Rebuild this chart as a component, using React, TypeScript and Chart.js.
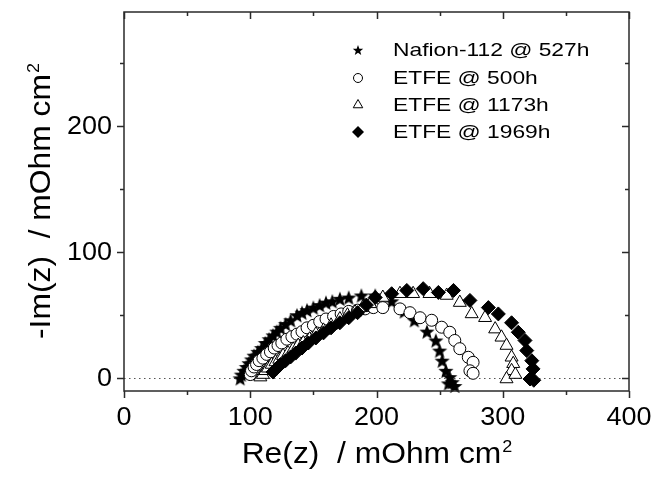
import React, { useEffect, useRef } from 'react';
import { Chart, registerables } from 'chart.js';

Chart.register(...registerables);

// ---------- data (Re(z), -Im(z)) in mOhm cm^2 ----------
const nafionRe = [92, 93, 95, 97, 99, 101, 103, 106, 109, 112, 115, 118, 121, 124, 128, 132, 137, 141, 145, 150, 155, 160, 165, 171, 178, 188, 199, 212, 222, 230, 240, 247, 250, 252, 255, 258, 260, 257, 262];
const nafionIm = [0, 3, 6, 9, 12, 15, 18, 21, 24, 28, 31, 34, 37, 40, 43, 46, 50, 52, 54, 56, 58, 60, 61, 63, 64, 65.6, 65.6, 61, 53, 46, 37, 30, 22, 14, 6, 1, -3, -4, -6];

const etfe500Re = [100, 101, 103, 105, 107, 110, 113, 116, 119, 122, 125, 129, 133, 137, 141, 145, 150, 155, 160, 166, 172, 178, 185, 191, 197.5, 205, 218.6, 226.5, 234.5, 243.7, 251.6, 258, 262, 266, 272.7, 276.5, 274, 276.5];
const etfe500Im = [3, 6, 9, 11, 14, 16, 19, 21, 24, 26, 28, 31, 33, 35, 37, 40, 42, 45, 47, 49, 51, 53, 54, 55, 56, 56, 55, 52, 48, 46, 40.5, 36.5, 30, 23.5, 16.7, 12.7, 6, 4];

const etfe1173Re = [108, 110, 112, 114, 117, 120, 123, 126, 130, 134, 138, 142, 147, 152, 158, 164, 171, 177, 183, 189, 195, 205, 218.6, 229, 242, 255.6, 266, 275.4, 286, 294, 299, 303, 307, 308.3, 307, 303, 310];
const etfe1173Im = [1, 3, 6, 8, 11, 13, 15, 18, 20, 23, 26, 28, 31, 35, 38, 42, 47, 50, 52.4, 56, 59, 64, 67, 67, 67, 65.6, 60, 51, 48, 39, 32.5, 26, 16.7, 11.6, 6, -0.5, 3];

const etfe1969Re = [118, 121, 124, 128, 132, 136, 141, 146, 152, 158, 164, 171, 178, 185, 192, 199, 212, 224, 237, 249, 261, 274, 288.6, 296.5, 307, 312.3, 317.6, 319, 323, 324, 321.6, 324.6];
const etfe1969Im = [5, 8, 11, 14, 17, 20, 24, 28, 32, 36, 40, 44, 48, 52, 58, 64, 67, 69.6, 71, 68, 69.6, 61.7, 56, 51, 44, 36.5, 30, 22, 14, 7.5, -0.5, -1.5];

const seriesLabels = ['Nafion-112 @ 527h', 'ETFE @ 500h', 'ETFE @ 1173h', 'ETFE @ 1969h'];
const xTickValues = [0, 100, 200, 300, 400];
const yTickValues = [0, 100, 200];
const xMinorValues = [50, 150, 250, 350];
const yMinorValues = [50, 150, 250];
const xTitle = 'Re(z)  / mOhm cm';
const yTitle = '-Im(z)  / mOhm cm';
const titleSup = '2';

const FONT = '"Liberation Sans", Arial, Helvetica, sans-serif';
const AXIS_COLOR = '#2a2a2a';

function toPoints(xs: number[], ys: number[]) {
  return xs.map((v, i) => ({ x: v, y: ys[i] }));
}

function starPath(ctx: CanvasRenderingContext2D, cx: number, cy: number, R: number, r: number) {
  ctx.beginPath();
  for (let i = 0; i < 10; i++) {
    const ang = -Math.PI / 2 + (i * Math.PI) / 5;
    const rad = i % 2 === 0 ? R : r;
    const px = cx + Math.cos(ang) * rad;
    const py = cy + Math.sin(ang) * rad;
    if (i === 0) ctx.moveTo(px, py);
    else ctx.lineTo(px, py);
  }
  ctx.closePath();
}

function makeStarImage(size: number, R: number, r: number) {
  const c = document.createElement('canvas');
  c.width = size;
  c.height = size;
  const g = c.getContext('2d')!;
  g.fillStyle = '#000';
  starPath(g, size / 2, size / 2 + R * 0.1, R, r);
  g.fill();
  return c;
}

// draw text with a horizontal stretch factor (the reference font is slightly wide)
function stretchText(ctx: CanvasRenderingContext2D, text: string, x: number, y: number, sx: number, align: 'left' | 'right' | 'center') {
  ctx.save();
  ctx.translate(x, y);
  ctx.scale(sx, 1);
  ctx.textAlign = align;
  ctx.fillText(text, 0, 0);
  ctx.restore();
}

function drawTitle(ctx: CanvasRenderingContext2D, text: string, sup: string, cx: number, baseline: number) {
  const SX = 1.06;
  ctx.font = `30px ${FONT}`;
  const w1 = ctx.measureText(text).width * SX;
  ctx.font = `17px ${FONT}`;
  const w2 = ctx.measureText(sup).width * SX;
  const start = cx - (w1 + w2) / 2;
  ctx.textBaseline = 'alphabetic';
  ctx.fillStyle = '#000';
  ctx.font = `30px ${FONT}`;
  stretchText(ctx, text, start, baseline, SX, 'left');
  ctx.font = `17px ${FONT}`;
  stretchText(ctx, sup, start + w1 + 1, baseline - 11, SX, 'left');
}

const framePlugin = {
  id: 'framePlugin',
  beforeDatasetsDraw(chart: any) {
    const { ctx, chartArea: a, scales } = chart;
    const y0 = Math.round(scales.y.getPixelForValue(0)) + 0.5;
    ctx.save();
    ctx.strokeStyle = '#555';
    ctx.lineWidth = 1;
    ctx.setLineDash([1.5, 3.5]);
    ctx.beginPath();
    ctx.moveTo(a.left, y0);
    ctx.lineTo(a.right, y0);
    ctx.stroke();
    ctx.restore();
  },
  afterDraw(chart: any) {
    const { ctx, chartArea: a, scales } = chart;
    const x = scales.x;
    const y = scales.y;
    ctx.save();
    ctx.strokeStyle = AXIS_COLOR;
    ctx.lineWidth = 1.5;
    ctx.setLineDash([]);
    ctx.strokeRect(a.left, a.top, a.right - a.left, a.bottom - a.top);

    const MAJ = 7;
    const MIN = 4;
    ctx.beginPath();
    xTickValues.forEach((v) => {
      const px = Math.round(x.getPixelForValue(v)) + 0.5;
      ctx.moveTo(px, a.bottom);
      ctx.lineTo(px, a.bottom + MAJ);
      ctx.moveTo(px, a.top);
      ctx.lineTo(px, a.top + MAJ);
    });
    xMinorValues.forEach((v) => {
      const px = Math.round(x.getPixelForValue(v)) + 0.5;
      ctx.moveTo(px, a.bottom);
      ctx.lineTo(px, a.bottom + MIN);
      ctx.moveTo(px, a.top);
      ctx.lineTo(px, a.top + MIN);
    });
    yTickValues.forEach((v) => {
      const py = Math.round(y.getPixelForValue(v)) + 0.5;
      ctx.moveTo(a.left, py);
      ctx.lineTo(a.left - MAJ, py);
      ctx.moveTo(a.right, py);
      ctx.lineTo(a.right - MAJ, py);
    });
    yMinorValues.forEach((v) => {
      const py = Math.round(y.getPixelForValue(v)) + 0.5;
      ctx.moveTo(a.left, py);
      ctx.lineTo(a.left - MIN, py);
      ctx.moveTo(a.right, py);
      ctx.lineTo(a.right - MIN, py);
    });
    ctx.stroke();

    // tick labels
    const TSX = 1.08;
    ctx.fillStyle = '#000';
    ctx.font = `25px ${FONT}`;
    ctx.textBaseline = 'alphabetic';
    xTickValues.forEach((v) => {
      stretchText(ctx, String(v), x.getPixelForValue(v), 425, TSX, 'center');
    });
    ctx.textBaseline = 'middle';
    yTickValues.forEach((v) => {
      stretchText(ctx, String(v), 112, y.getPixelForValue(v) + 1, TSX, 'right');
    });

    // axis titles
    drawTitle(ctx, xTitle, titleSup, (a.left + a.right) / 2, 463);
    ctx.save();
    ctx.translate(50, (a.top + a.bottom) / 2);
    ctx.rotate(-Math.PI / 2);
    drawTitle(ctx, yTitle, titleSup, 0, 0);
    ctx.restore();

    // legend
    const lx = 358;
    const rows = [50, 78, 105, 132];
    ctx.font = `19px ${FONT}`;
    ctx.textBaseline = 'middle';
    rows.forEach((ry, i) => {
      ctx.lineWidth = 1;
      ctx.strokeStyle = '#000';
      ctx.fillStyle = '#000';
      if (i === 0) {
        starPath(ctx, lx, ry + 0.5, 5.5, 2.3);
        ctx.fill();
      } else if (i === 1) {
        ctx.fillStyle = '#fff';
        ctx.beginPath();
        ctx.arc(lx, ry, 4.5, 0, Math.PI * 2);
        ctx.fill();
        ctx.stroke();
      } else if (i === 2) {
        const r = 5.5;
        ctx.fillStyle = '#fff';
        ctx.beginPath();
        ctx.moveTo(lx, ry - r);
        ctx.lineTo(lx + r * 0.866, ry + r * 0.5);
        ctx.lineTo(lx - r * 0.866, ry + r * 0.5);
        ctx.closePath();
        ctx.fill();
        ctx.stroke();
      } else {
        const r = 6;
        ctx.beginPath();
        ctx.moveTo(lx, ry - r);
        ctx.lineTo(lx + r, ry);
        ctx.lineTo(lx, ry + r);
        ctx.lineTo(lx - r, ry);
        ctx.closePath();
        ctx.fill();
      }
      ctx.fillStyle = '#000';
      stretchText(ctx, seriesLabels[i], 393, ry + 1, 1.2, 'left');
    });
    ctx.restore();
  },
};

export default function App() {
  const canvasRef = useRef<HTMLCanvasElement | null>(null);

  useEffect(() => {
    document.body.style.margin = '0';
    const canvas = canvasRef.current;
    if (!canvas) return;
    const starImg = makeStarImage(18, 8, 3.4);

    const chart = new Chart(canvas, {
      type: 'scatter',
      data: {
        datasets: [
          {
            label: seriesLabels[0],
            data: toPoints(nafionRe, nafionIm),
            pointStyle: starImg as any,
            pointRadius: 8,
            order: 3,
            clip: false as any,
          },
          {
            label: seriesLabels[1],
            data: toPoints(etfe500Re, etfe500Im),
            pointStyle: 'circle',
            pointRadius: 6,
            pointBackgroundColor: '#fff',
            pointBorderColor: '#000',
            pointBorderWidth: 1,
            order: 2,
            clip: false as any,
          },
          {
            label: seriesLabels[2],
            data: toPoints(etfe1173Re, etfe1173Im),
            pointStyle: 'triangle',
            pointRadius: 7.5,
            pointBackgroundColor: '#fff',
            pointBorderColor: '#000',
            pointBorderWidth: 1,
            order: 1,
            clip: false as any,
          },
          {
            label: seriesLabels[3],
            data: toPoints(etfe1969Re, etfe1969Im),
            pointStyle: 'rectRot',
            pointRadius: 7,
            pointBackgroundColor: '#000',
            pointBorderColor: '#000',
            pointBorderWidth: 1,
            order: 0,
            clip: false as any,
          },
        ],
      },
      options: {
        responsive: false,
        animation: false,
        layout: { padding: { left: 0, top: 12, right: 24, bottom: 0 } },
        plugins: {
          legend: { display: false },
          tooltip: { enabled: false },
          title: { display: false },
        },
        scales: {
          x: {
            type: 'linear',
            position: 'bottom',
            min: 0,
            max: 400,
            grid: { display: false, drawTicks: false },
            border: { display: false },
            ticks: { display: false },
            afterFit: (scale: any) => {
              scale.height = 88;
            },
          },
          y: {
            type: 'linear',
            min: -10,
            max: 290,
            grid: { display: false, drawTicks: false },
            border: { display: false },
            ticks: { display: false },
            afterFit: (scale: any) => {
              scale.width = 124;
            },
          },
        },
      },
      plugins: [framePlugin],
    });

    return () => {
      chart.destroy();
    };
  }, []);

  return (
    <div style={{ width: 653, height: 479, background: '#fff' }}>
      <canvas ref={canvasRef} width={653} height={479} style={{ display: 'block' }} />
    </div>
  );
}
